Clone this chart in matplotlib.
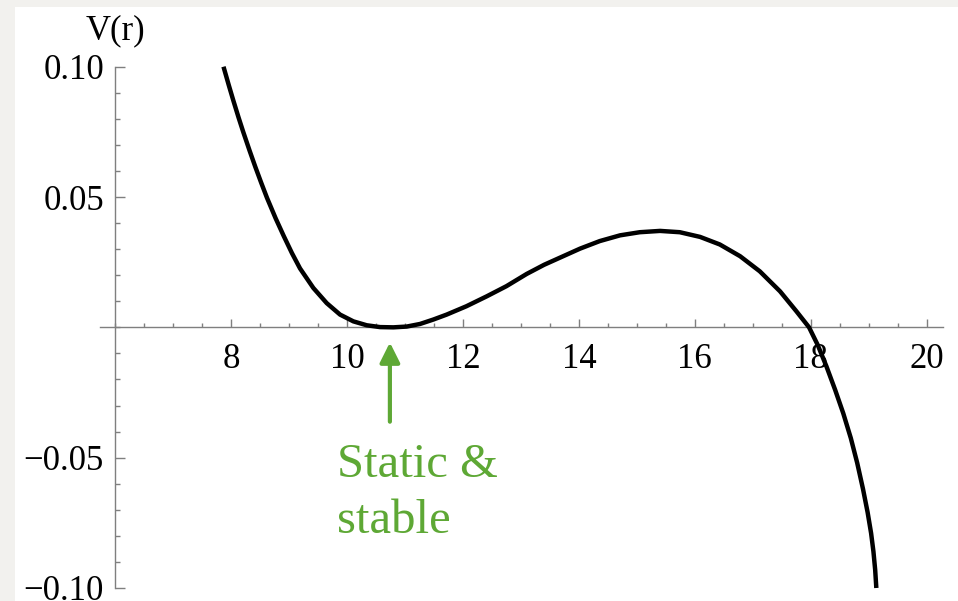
import matplotlib
matplotlib.use("Agg")
import matplotlib.pyplot as plt
from matplotlib.ticker import MultipleLocator, FixedLocator, FixedFormatter
from matplotlib.patches import Rectangle

# Effective potential V(r), sampled values
r_vals = [7.87, 7.96, 8.04, 8.13, 8.21, 8.32, 8.42, 8.52, 8.62, 8.77, 8.91,
          9.05, 9.19, 9.42, 9.65, 9.88, 10.11, 10.34, 10.57, 10.80, 11.03,
          11.26, 11.49, 11.72, 12.06, 12.41, 12.75, 13.10, 13.40, 13.70, 14.02,
          14.36, 14.71, 15.05, 15.40, 15.74, 16.09, 16.43, 16.78, 17.12, 17.47,
          17.75, 17.97, 18.12, 18.27, 18.42, 18.56, 18.69, 18.80, 18.90, 18.98,
          19.04, 19.08, 19.11, 19.13]
v_vals = [0.1000, 0.0930, 0.0870, 0.0805, 0.0750, 0.0678, 0.0615, 0.0555,
          0.0497, 0.0418, 0.0350, 0.0285, 0.0226, 0.0151, 0.0093, 0.0049,
          0.0023, 0.0008, 0.0001, 0.0000, 0.0003, 0.0013, 0.0030, 0.0049,
          0.0081, 0.0119, 0.0158, 0.0205, 0.0240, 0.0270, 0.0302, 0.0331,
          0.0353, 0.0365, 0.0370, 0.0365, 0.0347, 0.0318, 0.0273, 0.0215,
          0.0138, 0.0062, 0.0000, -0.0068, -0.0150, -0.0240, -0.0330, -0.0425,
          -0.0520, -0.0620, -0.0710, -0.0790, -0.0860, -0.0930, -0.1000]

x_ticks = [8, 10, 12, 14, 16, 18, 20]
x_tick_labels = ["8", "10", "12", "14", "16", "18", "20"]
y_ticks = [-0.10, -0.05, 0.05, 0.10]
y_tick_labels = ["\u22120.10", "\u22120.05", "0.05", "0.10"]

r_min = 10.74
arrow_tip, arrow_tail = -0.0058, -0.0362
label_lines = ["Static &", "stable"]

W, H = 958, 601
fig = plt.figure(figsize=(W / 100, H / 100), dpi=100)
fig.patch.set_facecolor("#f2f1ee")

# white page area behind the plot
bg = fig.add_axes([15 / W, 0, 1 - 15 / W, 1 - 7 / H], zorder=-10)
bg.set_axis_off()
bg.add_patch(Rectangle((0, 0), 1, 1, transform=bg.transAxes,
                       facecolor="white", edgecolor="none"))

ax = fig.add_axes([100 / W, 1 - 588 / H, 843 / W, (588 - 66.7) / H], zorder=1)
ax.patch.set_alpha(0)
ax.set_xlim(5.74, 20.28)
ax.set_ylim(-0.10, 0.10)

axis_color = "#7f7f7f"
for side in ("top", "right"):
    ax.spines[side].set_visible(False)
ax.spines["bottom"].set_position(("data", 0))
ax.spines["left"].set_position(("data", 6))
for side in ("bottom", "left"):
    ax.spines[side].set_color(axis_color)
    ax.spines[side].set_linewidth(1.0)

ax.xaxis.set_major_locator(FixedLocator(x_ticks))
ax.xaxis.set_major_formatter(FixedFormatter(x_tick_labels))
ax.xaxis.set_minor_locator(MultipleLocator(0.5))
ax.yaxis.set_major_locator(FixedLocator(y_ticks))
ax.yaxis.set_major_formatter(FixedFormatter(y_tick_labels))
ax.yaxis.set_minor_locator(MultipleLocator(0.01))

serif = ["Liberation Serif", "DejaVu Serif"]
ax.tick_params(axis="x", which="major", direction="in", length=6, width=1.0,
               color=axis_color, pad=11, labelsize=25)
ax.tick_params(axis="x", which="minor", direction="in", length=3, width=1.0,
               color=axis_color)
ax.tick_params(axis="y", which="major", direction="in", length=7, width=1.0,
               color=axis_color, pad=8, labelsize=25)
ax.tick_params(axis="y", which="minor", direction="in", length=3.5, width=1.0,
               color=axis_color)
for lab in ax.get_xticklabels() + ax.get_yticklabels():
    lab.set_family(serif)

ax.plot(r_vals, v_vals, color="black", lw=3.2, clip_on=False,
        solid_capstyle="butt", solid_joinstyle="round", zorder=3)

ax.annotate("V(r)", xy=(6, 0.10), xytext=(0, 25.5), textcoords="offset points",
            ha="center", va="center", fontsize=25, family=serif,
            annotation_clip=False)

green = "#5ea835"
ax.annotate("", xy=(r_min, arrow_tip), xytext=(r_min, arrow_tail),
            arrowprops=dict(arrowstyle="-|>,head_length=12,head_width=6",
                            mutation_scale=1, color=green, lw=3.0,
                            shrinkA=0, shrinkB=0))

ax.text(9.82, -0.0573, label_lines[0], color=green, fontsize=35,
        family=serif, ha="left", va="baseline")
ax.text(9.82, -0.0790, label_lines[1], color=green, fontsize=35,
        family=serif, ha="left", va="baseline")

fig.savefig("out.png", dpi=100, facecolor=fig.get_facecolor())
